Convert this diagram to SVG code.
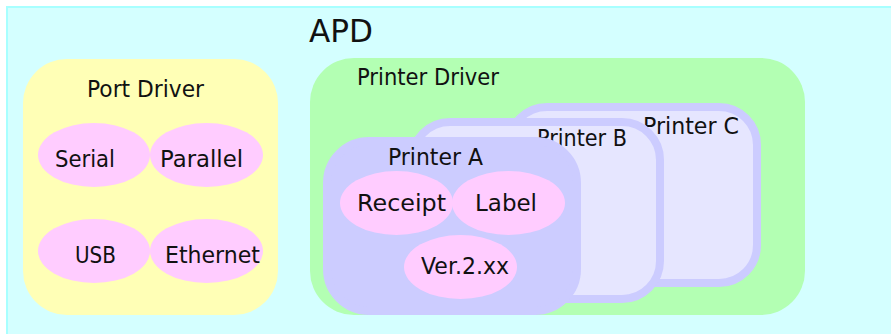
<svg xmlns="http://www.w3.org/2000/svg" width="891" height="334" viewBox="0 0 891 334">
<style>
text{font-family:"DejaVu Sans","Liberation Sans",sans-serif;font-size:23.5px;fill:#111}
.pink{fill:#ffccff}
.prn{stroke:#ccccff;stroke-width:8}
</style>
<g id="apd">
<rect x="7" y="7" width="900" height="340" fill="#d4ffff" stroke="#a8ffff" stroke-width="2"/>
<text x="309" y="42" style="font-size:32px" textLength="64" lengthAdjust="spacingAndGlyphs">APD</text>
</g>
<g id="port-driver">
<rect x="23" y="59" width="255" height="256" rx="44" fill="#ffffb6"/>
<text x="87" y="97" textLength="117" lengthAdjust="spacingAndGlyphs">Port Driver</text>
</g>
<g id="serial">
<ellipse cx="94" cy="155" rx="56" ry="32" class="pink"/>
<text x="55" y="167" textLength="60" lengthAdjust="spacingAndGlyphs">Serial</text>
</g>
<g id="parallel">
<ellipse cx="206.5" cy="155" rx="56.5" ry="32" class="pink"/>
<text x="160" y="167" textLength="83" lengthAdjust="spacingAndGlyphs">Parallel</text>
</g>
<g id="usb">
<ellipse cx="94" cy="251" rx="56" ry="32" class="pink"/>
<text x="75" y="263" textLength="41" lengthAdjust="spacingAndGlyphs">USB</text>
</g>
<g id="ethernet">
<ellipse cx="206.5" cy="251" rx="56.5" ry="32" class="pink"/>
<text x="165" y="263" textLength="95" lengthAdjust="spacingAndGlyphs">Ethernet</text>
</g>
<g id="printer-driver">
<rect x="310" y="58" width="495" height="257" rx="44" fill="#b3ffb3"/>
<text x="357" y="85" textLength="142" lengthAdjust="spacingAndGlyphs">Printer Driver</text>
</g>
<g id="printer-c">
<rect x="509" y="107" width="248" height="176" rx="38" fill="#e6e6ff" class="prn"/>
<text x="643" y="134" textLength="96" lengthAdjust="spacingAndGlyphs">Printer C</text>
</g>
<g id="printer-b">
<rect x="412" y="122" width="248" height="177" rx="38" fill="#e6e6ff" class="prn"/>
<text x="537" y="146" textLength="90" lengthAdjust="spacingAndGlyphs">Printer B</text>
</g>
<g id="printer-a">
<rect x="327" y="141" width="250" height="170" rx="42" fill="#ccccff" class="prn"/>
<text x="388" y="165" textLength="95" lengthAdjust="spacingAndGlyphs">Printer A</text>
</g>
<g id="receipt">
<ellipse cx="396.5" cy="203" rx="56.5" ry="32" class="pink"/>
<text x="357" y="211" textLength="89" lengthAdjust="spacingAndGlyphs">Receipt</text>
</g>
<g id="label">
<ellipse cx="508.5" cy="203" rx="56.5" ry="32" class="pink"/>
<text x="475" y="211" textLength="62" lengthAdjust="spacingAndGlyphs">Label</text>
</g>
<g id="ver">
<ellipse cx="460.5" cy="267" rx="56.5" ry="32" class="pink"/>
<text x="421" y="274" textLength="88" lengthAdjust="spacingAndGlyphs">Ver.2.xx</text>
</g>
<g id="connectors"></g>
</svg>
